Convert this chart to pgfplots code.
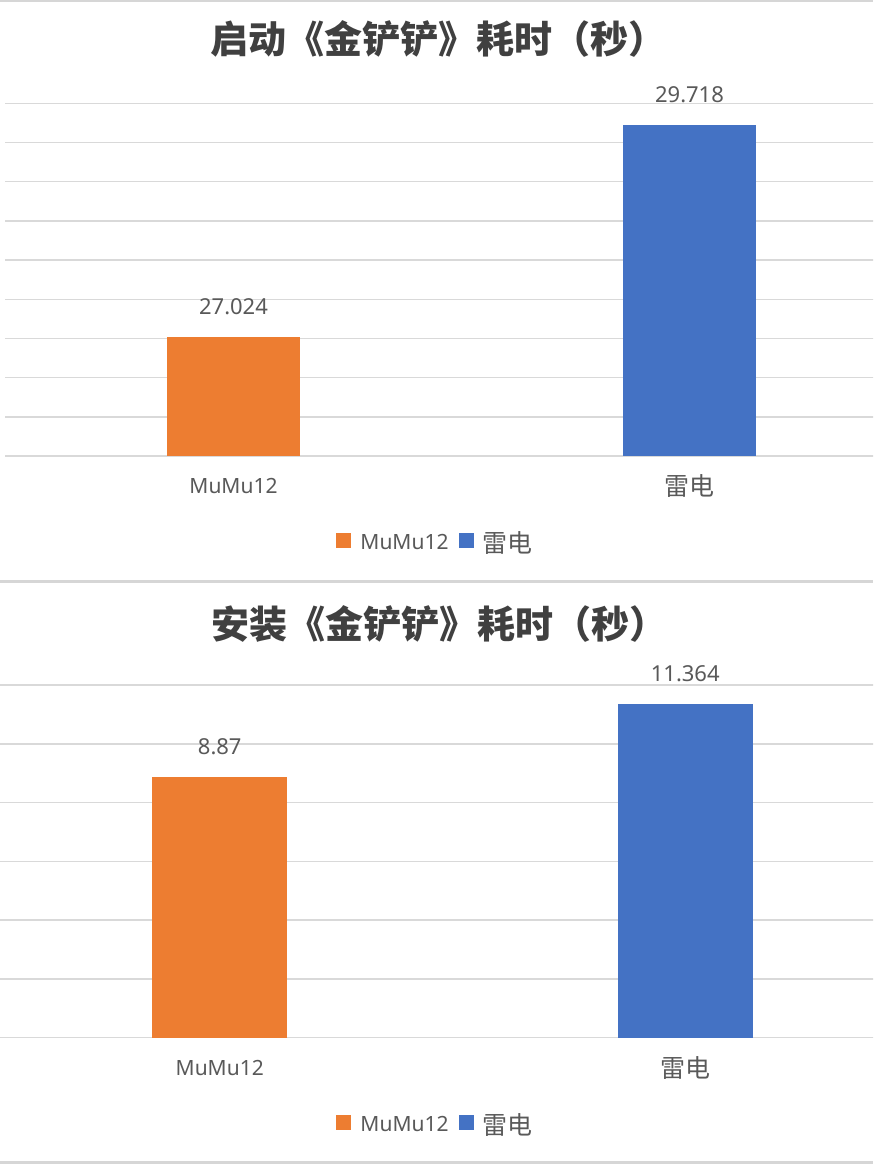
\documentclass[border=0pt]{standalone}
\usepackage{fontspec}
\setmainfont{Noto Sans}
\newfontfamily\cjk{Noto Sans CJK SC}
\usepackage{pgfplots}
\pgfplotsset{compat=1.18}

\definecolor{barorange}{HTML}{ED7D31}
\definecolor{barblue}{HTML}{4472C4}
\definecolor{gridgray}{HTML}{D9D9D9}
\definecolor{labelgray}{HTML}{595959}
\definecolor{titlegray}{HTML}{404040}
\definecolor{framegray}{HTML}{D6D6D6}

\pgfplotsset{
  excelbar/.style={
    scale only axis,
    height=352.7pt,
    xmin=-0.5, xmax=1.5,
    xtick={0,1},
    xticklabels={MuMu12,{\cjk\fontsize{25}{25}\selectfont 雷电}},
    axis line style={draw=none},
    major tick length=0pt,
    tick style={draw=none},
    yticklabels={},
    ymajorgrids,
    grid style={gridgray, line width=1.5pt},
    xticklabel style={font=\fontsize{21}{21}\selectfont, text=labelgray, anchor=center, yshift=-30pt},
    /pgf/number format/assume math mode=true,
    nodes near coords={\pgfmathprintnumber[fixed,precision=3]{\pgfplotspointmeta}},
    every node near coord/.append style={font=\fontsize{22}{22}\selectfont, text=labelgray, inner sep=0pt, yshift=22pt},
    clip mode=individual,
    legend columns=-1,
    title style={font=\cjk\bfseries\fontsize{38}{38}\selectfont, text=titlegray, anchor=center},
    legend style={draw=none, fill=none, inner sep=0pt, anchor=center,
      font=\fontsize{21}{21}\selectfont, text=labelgray, nodes={inner sep=0pt},
      /tikz/every odd column/.append style={column sep=9pt},
      /tikz/every even column/.append style={column sep=10pt}},
  },
  onebar/.style={ybar, bar shift=0pt, fill=#1, draw=none,
    legend image code/.code={\fill[#1] (0pt,-5.5pt) rectangle (15pt,9.5pt);}},
}

\begin{document}
\begin{tikzpicture}
\useasboundingbox (0,0) rectangle (873pt,-1164pt);
\clip (0,0) rectangle (873pt,-1164pt);
\fill[white] (0,0) rectangle (873pt,-1164pt);

% 启动耗时
\begin{axis}[excelbar,
    at={(5.5pt,-456pt)}, anchor=south west,
    width=912pt,
    ymin=25.5, ymax=30, ytick={25.5,26,...,30},
    bar width=133pt,
    title={启动《金铲铲》耗时（秒）},
    title style={at={(0.4753,1.1667)}},
    legend style={at={(0.4704,-0.2466)}},
  ]
  \addplot[onebar=barorange] coordinates {(0,27.024)};
  \addlegendentry{MuMu12}
  \addplot[onebar=barblue] coordinates {(1,29.718)};
  \addlegendentry{{\cjk\fontsize{25}{25}\selectfont 雷电}}
\end{axis}

% 安装耗时
\begin{axis}[excelbar,
    at={(-13pt,-1037.7pt)}, anchor=south west,
    width=931pt,
    ymin=0, ymax=12, ytick={0,2,...,12},
    bar width=135pt,
    title={安装《金铲铲》耗时（秒）},
    title style={at={(0.4855,1.1573)}},
    legend style={at={(0.4807,-0.2464)}},
  ]
  \addplot[onebar=barorange] coordinates {(0,8.87)};
  \addlegendentry{MuMu12}
  \addplot[onebar=barblue] coordinates {(1,11.364)};
  \addlegendentry{{\cjk\fontsize{25}{25}\selectfont 雷电}}
\end{axis}

\draw[framegray, line width=2pt] (0,-1pt) -- (873pt,-1pt);
\draw[framegray, line width=3pt] (0,-581.7pt) -- (873pt,-581.7pt);
\draw[framegray, line width=3pt] (0,-1162.5pt) -- (873pt,-1162.5pt);
\end{tikzpicture}
\end{document}
